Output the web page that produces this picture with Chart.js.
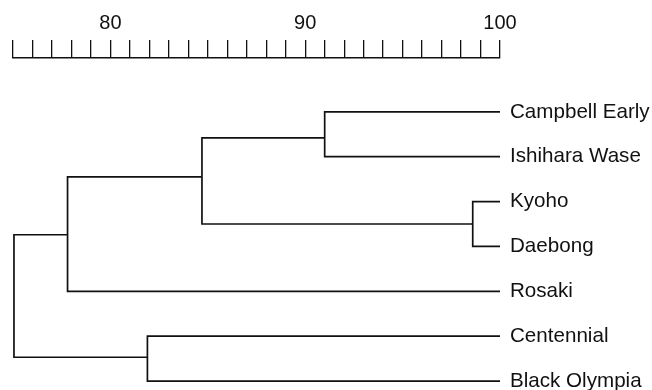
<!DOCTYPE html>
<html>
<head>
<meta charset="utf-8">
<script src="https://cdn.jsdelivr.net/npm/chart.js@4"></script>
<style>
  html, body { margin: 0; padding: 0; background: #fff; }
  #wrap { width: 652px; height: 390px; }
</style>
</head>
<body>
<div id="wrap"><canvas id="dendro"></canvas></div>
<script>
// leaves, top to bottom
const leafNames = ['Campbell Early', 'Ishihara Wase', 'Kyoho', 'Daebong', 'Rosaki', 'Centennial', 'Black Olympia'];
const leafLevel = 100;
// merges: children are leaf index (0-6) or 7 + merge index
const mergeChildren = [[0, 1], [2, 3], [7, 8], [9, 4], [5, 6], [10, 11]];
const mergeLevel = [91.0, 98.6, 84.7, 77.8, 81.9, 75.05];
const mergeY = [0.58, 2.5, 1.45, 2.74, 5.47, 4.1];
const scaleTicks = [80, 90, 100];

const nLeaf = leafNames.length;
function pos(id) {
  if (id < nLeaf) return { x: leafLevel, y: id };
  return { x: mergeLevel[id - nLeaf], y: mergeY[id - nLeaf] };
}

const datasets = mergeChildren.map((ch, k) => {
  const a = pos(ch[0]), b = pos(ch[1]), x = mergeLevel[k];
  return {
    data: [{ x: a.x, y: a.y }, { x: x, y: a.y }, { x: x, y: b.y }, { x: b.x, y: b.y }],
    showLine: true, borderColor: '#111', borderWidth: 1.7,
    pointRadius: 0, tension: 0, clip: false, fill: false
  };
});

const family = "'Liberation Sans', Arial, sans-serif";

function noPad(s) {
  s.paddingTop = 0; s.paddingBottom = 0; s.paddingLeft = 0; s.paddingRight = 0;
}

new Chart(document.getElementById('dendro'), {
  type: 'scatter',
  data: { datasets: datasets },
  options: {
    responsive: true,
    maintainAspectRatio: false,
    animation: false,
    layout: { padding: { left: 13, right: 0, top: 0, bottom: 0 } },
    plugins: { legend: { display: false }, tooltip: { enabled: false } },
    scales: {
      x: {
        type: 'linear', position: 'top', min: 75, max: 100,
        afterFit: s => { s.height = 58; noPad(s); },
        border: { display: true, color: '#111', width: 1.5 },
        grid: { drawOnChartArea: false, drawTicks: true, tickLength: 18, color: '#111', lineWidth: 1.3 },
        ticks: {
          stepSize: 1, autoSkip: false, maxRotation: 0, padding: 5, color: '#111',
          font: { family: family, size: 20 },
          callback: v => scaleTicks.includes(v) ? String(v) : ''
        }
      },
      y: {
        type: 'linear', position: 'right', reverse: true, min: -1.2, max: 6.2,
        afterFit: s => { s.width = 152; noPad(s); },
        afterBuildTicks: s => { s.ticks = leafNames.map((_, i) => ({ value: i })); },
        border: { display: false },
        grid: { display: false, drawTicks: false },
        ticks: {
          autoSkip: false, padding: 10, color: '#111',
          font: { family: family, size: 20.6 },
          callback: v => leafNames[v]
        }
      }
    }
  }
});
</script>
</body>
</html>
